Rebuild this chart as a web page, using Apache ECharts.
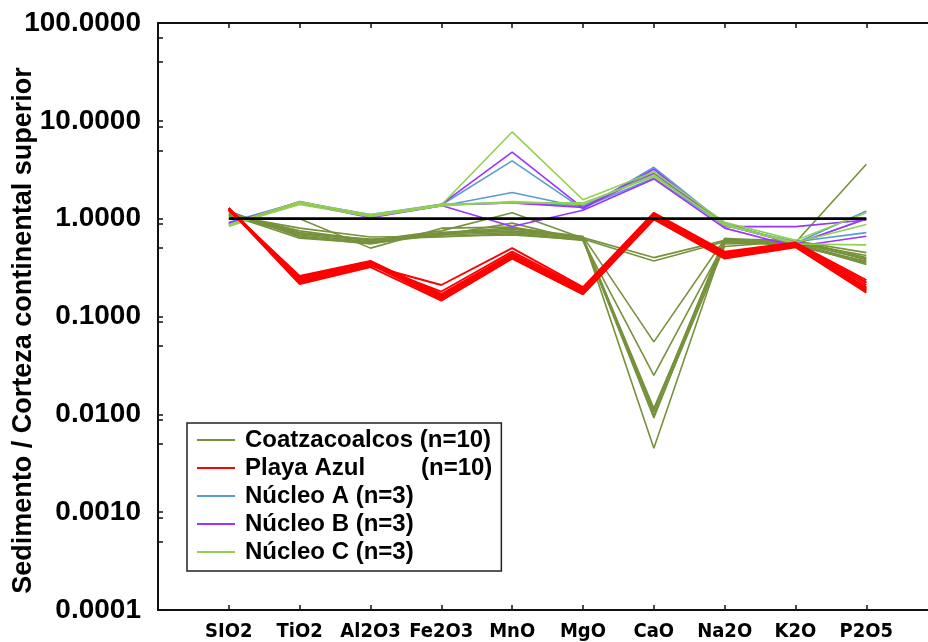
<!DOCTYPE html>
<html>
<head>
<meta charset="utf-8">
<script src="https://cdn.jsdelivr.net/npm/echarts@6/dist/echarts.min.js"></script>
<style>
  html, body { margin: 0; padding: 0; background: #ffffff; }
  #chart { width: 928px; height: 642px; }
</style>
</head>
<body>
<div id="chart"></div>
<script>
// Oxides on the horizontal axis
const oxides = ['SIO2', 'TiO2', 'Al2O3', 'Fe2O3', 'MnO', 'MgO', 'CaO', 'Na2O', 'K2O', 'P2O5'];

// Major and minor tick values on the log axis
const yTickValues = [100, 70, 40, 10, 8.8, 5, 1, 0.88, 0.5, 0.1, 0.088, 0.05,
  0.01, 0.0088, 0.005, 0.001, 0.00088, 0.0005, 0.0001];

// Normalised ratios (sediment / upper continental crust), one row per sample
const coatzacoalcos = [
  [1.15, 0.72, 0.60, 0.70, 0.78, 0.64, 0.40,   0.60, 0.58, 0.38],
  [1.10, 0.68, 0.58, 0.68, 0.72, 0.62, 0.37,   0.58, 0.56, 0.36],
  [1.20, 0.65, 0.55, 0.72, 0.80, 0.66, 0.055,  0.62, 0.60, 0.40],
  [1.05, 0.70, 0.62, 0.65, 0.70, 0.60, 0.025,  0.57, 0.55, 0.34],
  [1.12, 0.75, 0.60, 0.75, 1.15, 0.63, 0.0115, 0.55, 0.57, 0.42],
  [1.18, 0.66, 0.57, 0.70, 0.75, 0.65, 0.0105, 0.60, 0.52, 0.37],
  [1.08, 0.80, 0.65, 0.66, 0.68, 0.61, 0.0098, 0.52, 0.59, 0.45],
  [1.00, 1.00, 0.50, 0.80, 0.82, 0.62, 0.0092, 0.61, 0.57, 3.60],
  [1.14, 0.70, 0.60, 0.72, 0.74, 0.64, 0.0045, 0.59, 0.54, 0.35],
  [1.10, 0.63, 0.56, 0.68, 0.90, 0.60, 0.011,  0.63, 0.57, 0.39]
];

const playaAzul = [
  [1.28, 0.250, 0.360, 0.155, 0.420, 0.180, 1.05, 0.420, 0.540, 0.200],
  [1.26, 0.240, 0.350, 0.160, 0.410, 0.175, 1.03, 0.410, 0.530, 0.190],
  [1.25, 0.230, 0.340, 0.150, 0.400, 0.170, 1.00, 0.400, 0.520, 0.180],
  [1.24, 0.260, 0.370, 0.165, 0.430, 0.185, 1.08, 0.430, 0.550, 0.210],
  [1.27, 0.220, 0.330, 0.210, 0.500, 0.200, 1.15, 0.460, 0.570, 0.235],
  [1.23, 0.245, 0.355, 0.158, 0.415, 0.178, 1.04, 0.415, 0.535, 0.195],
  [1.26, 0.235, 0.345, 0.152, 0.405, 0.172, 1.02, 0.405, 0.525, 0.185],
  [1.25, 0.215, 0.320, 0.145, 0.390, 0.168, 0.98, 0.390, 0.510, 0.175],
  [1.22, 0.255, 0.365, 0.170, 0.440, 0.190, 1.10, 0.440, 0.560, 0.220],
  [1.29, 0.225, 0.340, 0.180, 0.460, 0.195, 1.12, 0.450, 0.550, 0.225]
];

const nucleoA = [
  [0.88, 1.45, 1.08, 1.38, 3.90, 1.25, 3.35, 0.88, 0.56, 1.20],
  [0.90, 1.42, 1.05, 1.35, 1.85, 1.30, 2.60, 0.85, 0.58, 0.72],
  [0.92, 1.48, 1.10, 1.40, 1.45, 1.35, 3.00, 0.90, 0.55, 1.00]
];

const nucleoB = [
  [0.86, 1.50, 1.05, 1.40, 4.80, 1.28, 3.20, 0.83, 0.83, 0.97],
  [0.88, 1.47, 1.08, 1.38, 1.45, 1.30, 2.90, 0.86, 0.55, 1.00],
  [0.90, 1.45, 1.02, 1.36, 0.83, 1.22, 2.55, 0.80, 0.52, 0.66]
];

const nucleoC = [
  [0.83, 1.45, 1.10, 1.38, 7.70, 1.56, 3.00, 0.92, 0.60, 1.15],
  [0.85, 1.40, 1.05, 1.35, 1.50, 1.40, 2.80, 0.85, 0.57, 0.87],
  [0.87, 1.50, 1.08, 1.40, 1.45, 1.45, 2.70, 0.88, 0.55, 0.54]
];

// Reference level (ratio = 1)
const unity = [1, 1, 1, 1, 1, 1, 1, 1, 1, 1];

const groups = [
  { name: 'Coatzacoalcos (n=10)', rows: coatzacoalcos, color: '#76923C', width: 1.6 },
  { name: 'Núcleo A (n=3)',       rows: nucleoA,       color: '#5B9BD5', width: 1.6 },
  { name: 'Núcleo B (n=3)',       rows: nucleoB,       color: '#9933FF', width: 1.6 },
  { name: 'Núcleo C (n=3)',       rows: nucleoC,       color: '#92D050', width: 1.6 },
  { name: 'Playa Azul (n=10)',    rows: playaAzul,     color: '#FF0000', width: 1.9 }
];
const legendOrder = ['Coatzacoalcos (n=10)', 'Playa Azul (n=10)', 'Núcleo A (n=3)', 'Núcleo B (n=3)', 'Núcleo C (n=3)'];

const toPoints = row => row.map((v, i) => [i, v]);

const series = [];
groups.forEach(g => {
  if (g.name === 'Playa Azul (n=10)') {
    series.push({
      name: 'unity', type: 'line', data: toPoints(unity), symbol: 'none',
      silent: true, lineStyle: { color: '#000', width: 2.6 }, z: 3
    });
  }
  g.rows.forEach(row => {
    series.push({
      name: g.name, type: 'line', data: toPoints(row), symbol: 'none',
      lineStyle: { color: g.color, width: g.width }, itemStyle: { color: g.color },
      z: 2
    });
  });
});

const FONT = '"Liberation Sans", Arial, sans-serif';
const NARROW = '"Liberation Sans Narrow", "Arial Narrow", "DejaVu Sans Condensed", "Liberation Sans", sans-serif';

const xCommon = {
  type: 'value', min: -1, max: 11, interval: 1,
  axisLine: { show: true, onZero: false, lineStyle: { color: '#111', width: 2 } },
  axisTick: { show: true, inside: true, length: 5, lineStyle: { color: '#111', width: 1.5 } },
  splitLine: { show: false }
};

const chart = echarts.init(document.getElementById('chart'), null, { renderer: 'canvas' });
chart.setOption({
  animation: false,
  backgroundColor: '#ffffff',
  grid: { left: 158, top: 23, width: 850, bottom: 32, containLabel: false, outerBoundsMode: 'none' },
  xAxis: [
    Object.assign({}, xCommon, {
      position: 'bottom',
      axisLabel: {
        margin: 12, color: '#000', fontFamily: NARROW, fontWeight: 'bold', fontSize: 20,
        formatter: v => (v >= 0 && v < oxides.length ? oxides[v] : '')
      }
    }),
    Object.assign({}, xCommon, { position: 'top', axisLabel: { show: false } })
  ],
  yAxis: {
    type: 'log', logBase: 10, min: 0.0001, max: 100,
    name: 'Sedimento / Corteza continental superior',
    nameLocation: 'middle', nameRotate: 90, nameGap: 121, nameMoveOverlap: false,
    nameTextStyle: { fontFamily: FONT, fontWeight: 'bold', fontSize: 27, color: '#000',
      padding: [0, 28, 0, 0] },
    axisLine: { show: true, onZero: false, lineStyle: { color: '#111', width: 2 } },
    axisTick: { show: true, inside: true, length: 5, lineStyle: { color: '#111', width: 1.5 },
      customValues: yTickValues },
    axisLabel: {
      margin: 17, color: '#000', fontFamily: FONT, fontWeight: 'bold', fontSize: 28,
      formatter: v => Number(v).toFixed(4)
    },
    splitLine: { show: false }
  },
  legend: {
    data: legendOrder,
    orient: 'vertical', left: 187, top: 423,
    backgroundColor: '#ffffff', borderColor: '#222', borderWidth: 1.5,
    padding: [5, 9, 7, 10], itemGap: 4,
    itemWidth: 38, itemHeight: 2,
    icon: 'rect',
    selectedMode: false,
    textStyle: {
      fontFamily: FONT, fontWeight: 'bold', fontSize: 24, color: '#000', lineHeight: 24,
      padding: [0, 0, 0, 5],
      rich: {
        w: { width: 176, fontFamily: FONT, fontWeight: 'bold', fontSize: 24, color: '#000', lineHeight: 24 }
      }
    },
    formatter: name => name === 'Playa Azul (n=10)' ? '{w|Playa Azul}(n=10)' : name
  },
  series: series
});
</script>
</body>
</html>
